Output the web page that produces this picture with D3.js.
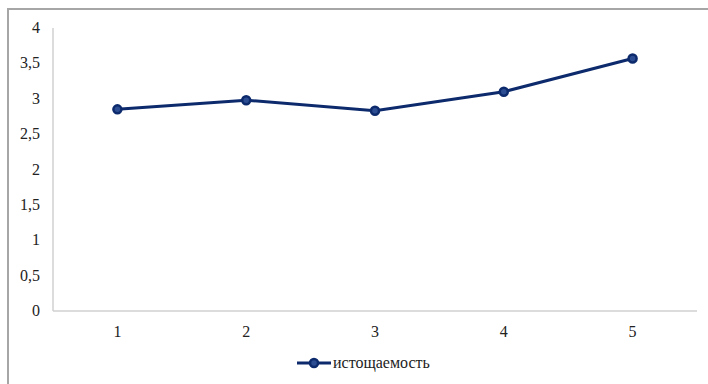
<!DOCTYPE html>
<html><head><meta charset="utf-8">
<script src="https://cdn.jsdelivr.net/npm/d3@7"></script>
<style>body{margin:0;background:#fff}svg{display:block}text{font-family:"Times New Roman","Liberation Serif",Tinos,"DejaVu Serif",serif}</style>
</head><body>
<script>
const categories = ["1","2","3","4","5"];
const values = [2.85, 2.98, 2.83, 3.10, 3.57];
const yTicks = [0,0.5,1,1.5,2,2.5,3,3.5,4];
const seriesName = "истощаемость";

const W=708,H=384;
const svg=d3.select("body").append("svg").attr("width",W).attr("height",H);
svg.append("rect").attr("width",W).attr("height",H).attr("fill","#fff");
// outer border
svg.append("path").attr("d",`M8,${H} V9 H${W}`).attr("fill","none").attr("stroke","#a6a6a6").attr("stroke-width",2);

const x=d3.scaleBand().domain(categories).range([53,697]);
const y=d3.scaleLinear().domain([0,4]).range([311,28]);

// axes lines
svg.append("line").attr("x1",53).attr("x2",53).attr("y1",y(4)).attr("y2",y(0)).attr("stroke","#d0d0d0").attr("stroke-width",1.5);
svg.append("line").attr("x1",53).attr("x2",697).attr("y1",y(0)).attr("y2",y(0)).attr("stroke","#d0d0d0").attr("stroke-width",1.5);

const fmt=d=>String(d).replace(".",",");
svg.append("g").selectAll("text").data(yTicks).join("text")
  .attr("x",40).attr("y",d=>y(d)+5).attr("text-anchor","end")
  .attr("font-size",16).attr("fill","#222").text(fmt);
svg.append("g").selectAll("text").data(categories).join("text")
  .attr("x",d=>x(d)+x.bandwidth()/2).attr("y",337).attr("text-anchor","middle")
  .attr("font-size",16).attr("fill","#222").text(d=>d);

const navy="#0c2a6c";
const pts=categories.map((c,i)=>[x(c)+x.bandwidth()/2,y(values[i])]);
svg.append("path").attr("d",d3.line()(pts)).attr("fill","none").attr("stroke",navy).attr("stroke-width",3);
svg.append("g").selectAll("circle").data(pts).join("circle")
  .attr("cx",d=>d[0]).attr("cy",d=>d[1]).attr("r",4).attr("fill","#2d4d92").attr("stroke",navy).attr("stroke-width",2.5);

// legend
const lg=svg.append("g");
lg.append("line").attr("x1",297).attr("x2",331).attr("y1",363).attr("y2",363).attr("stroke",navy).attr("stroke-width",3);
lg.append("circle").attr("cx",314).attr("cy",363).attr("r",4).attr("fill","#2d4d92").attr("stroke",navy).attr("stroke-width",2.5);
lg.append("text").attr("x",333).attr("y",368).attr("font-size",16).attr("fill","#222").text(seriesName);
</script>
</body></html>
